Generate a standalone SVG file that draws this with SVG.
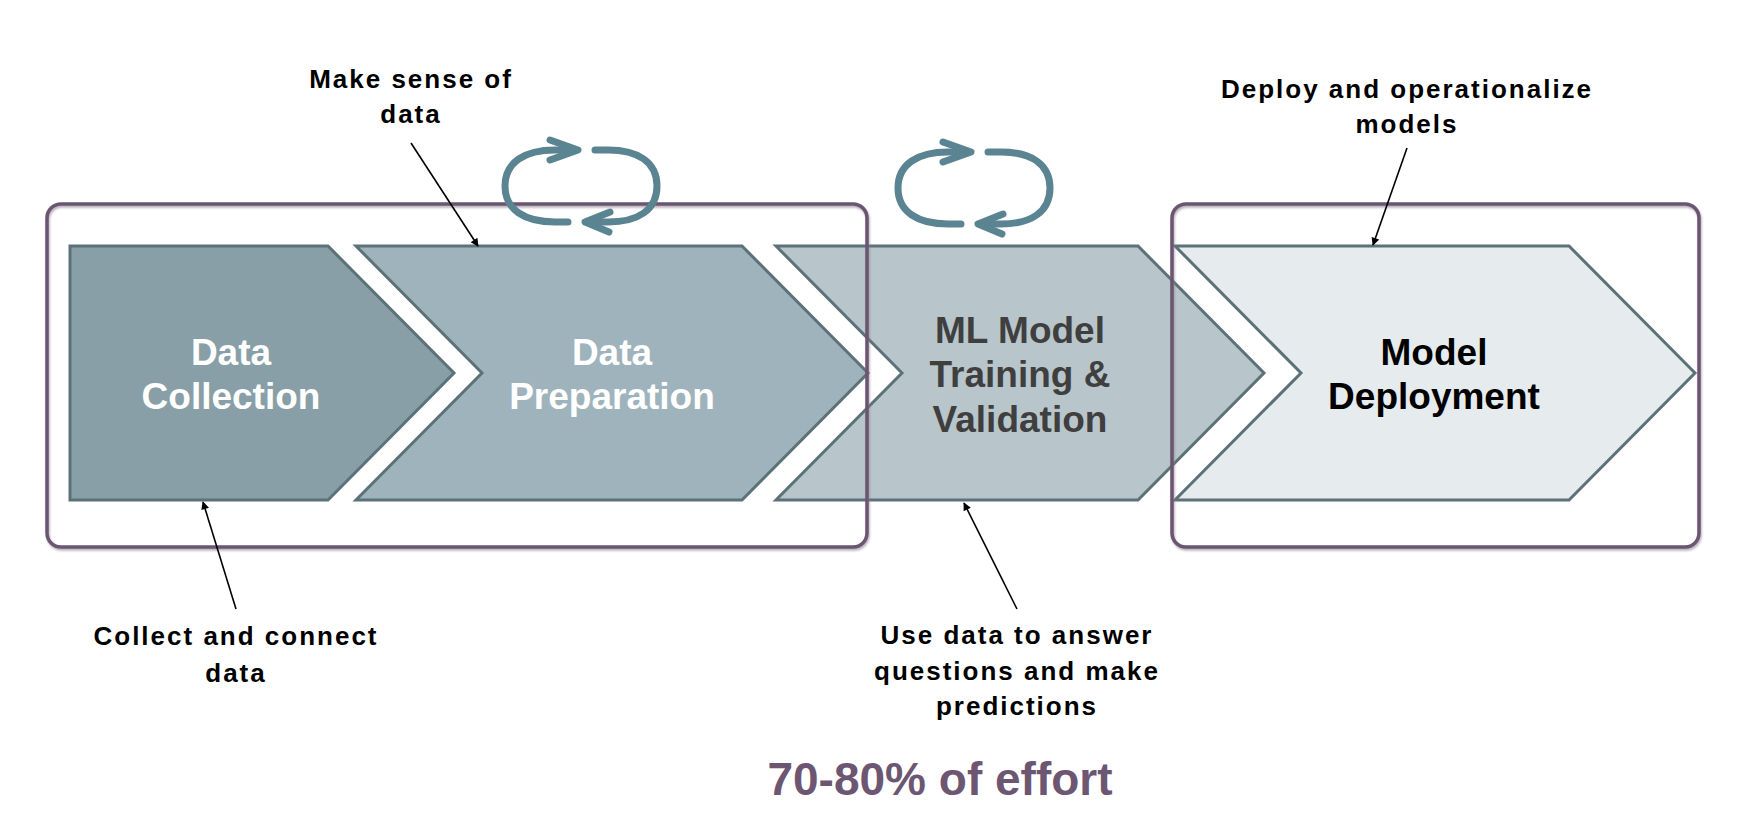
<svg xmlns="http://www.w3.org/2000/svg" width="1740" height="818" viewBox="0 0 1740 818">
<style>
.chev{stroke:#5c7278;stroke-width:3;stroke-linejoin:miter}
.lbl{font-family:"Liberation Sans",Arial,sans-serif;font-weight:bold;font-size:37px;text-anchor:middle}
.ann{font-family:"Liberation Sans",Arial,sans-serif;font-weight:bold;font-size:26px;letter-spacing:2px;text-anchor:middle;fill:#000}
.grp{fill:none;stroke:#6b5670;stroke-width:3.5}
.cyc{fill:none;stroke:#5b8493;stroke-width:7;stroke-linecap:round;stroke-linejoin:round}
.conn{stroke:#000;stroke-width:1.6;fill:none}
</style>
<defs>
<marker id="ah" viewBox="0 0 10 10" refX="9" refY="5" markerWidth="10" markerHeight="8" markerUnits="userSpaceOnUse" orient="auto">
<path d="M0,0 L10,5 L0,10 z" fill="#000"/>
</marker>
<filter id="sh" x="-5%" y="-5%" width="110%" height="115%">
<feDropShadow dx="1" dy="2" stdDeviation="1" flood-color="#8a7a8c" flood-opacity="0.6"/>
</filter>
<g id="cycle">
<path d="M-13,36 L-26,36 C-56,36 -76,24 -76,0 C-76,-24 -56,-36 -26,-36 L-7,-36"/>
<polyline points="-31,-46 -3,-36 -31,-26"/>
<path d="M14,-36 L27,-36 C57,-36 76,-24 76,0 C76,24 57,36 27,36 L7,36"/>
<polyline points="29,26 4,36 28,46"/>
</g>
</defs>
<rect width="1740" height="818" fill="#fff"/>

<g id="data-collection">
<polygon class="chev" fill="#889fa8" points="70,246 328,246 454,373 328,500 70,500"/>
<text class="lbl" fill="#fff" x="231" y="365">Data</text>
<text class="lbl" fill="#fff" x="231" y="409">Collection</text>
</g>
<g id="data-preparation">
<polygon class="chev" fill="#9fb3bd" points="356,246 742,246 868,373 742,500 356,500 482,373"/>
<text class="lbl" fill="#fff" x="612" y="365">Data</text>
<text class="lbl" fill="#fff" x="612" y="409">Preparation</text>
</g>
<g id="ml-model">
<polygon class="chev" fill="#b8c5cb" points="776,246 1138,246 1264,373 1138,500 776,500 902,373"/>
<text class="lbl" fill="#3f3f3f" x="1020" y="343">ML Model</text>
<text class="lbl" fill="#3f3f3f" x="1020" y="387">Training &amp;</text>
<text class="lbl" fill="#3f3f3f" x="1020" y="432">Validation</text>
</g>
<g id="model-deployment">
<polygon class="chev" fill="#e6ebee" points="1175,246 1569,246 1695,373 1569,500 1175,500 1301,373"/>
<text class="lbl" fill="#000" x="1434" y="365">Model</text>
<text class="lbl" fill="#000" x="1434" y="409">Deployment</text>
</g>

<g id="group-boxes" filter="url(#sh)">
<rect id="box-prep" class="grp" x="47" y="204" width="820" height="343" rx="14"/>
<rect id="box-deploy" class="grp" x="1172" y="204" width="527" height="343" rx="14"/>
</g>

<g id="cycle-1" class="cyc">
<use href="#cycle" transform="translate(581,186)"/>
</g>
<g id="cycle-2" class="cyc">
<use href="#cycle" transform="translate(974,188)"/>
</g>

<g id="annotations">
<g id="ann-make-sense">
<text class="ann" x="411" y="88">Make sense of</text>
<text class="ann" x="411" y="123">data</text>
</g>
<g id="ann-deploy">
<text class="ann" x="1407" y="98">Deploy and operationalize</text>
<text class="ann" x="1407" y="133">models</text>
</g>
<g id="ann-collect">
<text class="ann" x="236" y="645">Collect and connect</text>
<text class="ann" x="236" y="682">data</text>
</g>
<g id="ann-use">
<text class="ann" x="1017" y="644">Use data to answer</text>
<text class="ann" x="1017" y="680">questions and make</text>
<text class="ann" x="1017" y="715">predictions</text>
</g>
</g>

<g id="connectors">
<line class="conn" x1="411" y1="143" x2="478" y2="246" marker-end="url(#ah)"/>
<line class="conn" x1="1407" y1="148" x2="1373" y2="245" marker-end="url(#ah)"/>
<line class="conn" x1="236" y1="609" x2="203" y2="502" marker-end="url(#ah)"/>
<line class="conn" x1="1017" y1="609" x2="964" y2="503" marker-end="url(#ah)"/>
</g>

<text id="effort" x="940" y="795" font-family="'Liberation Sans',Arial,sans-serif" font-weight="bold" font-size="46" fill="#6c5672" text-anchor="middle">70-80% of effort</text>
</svg>
